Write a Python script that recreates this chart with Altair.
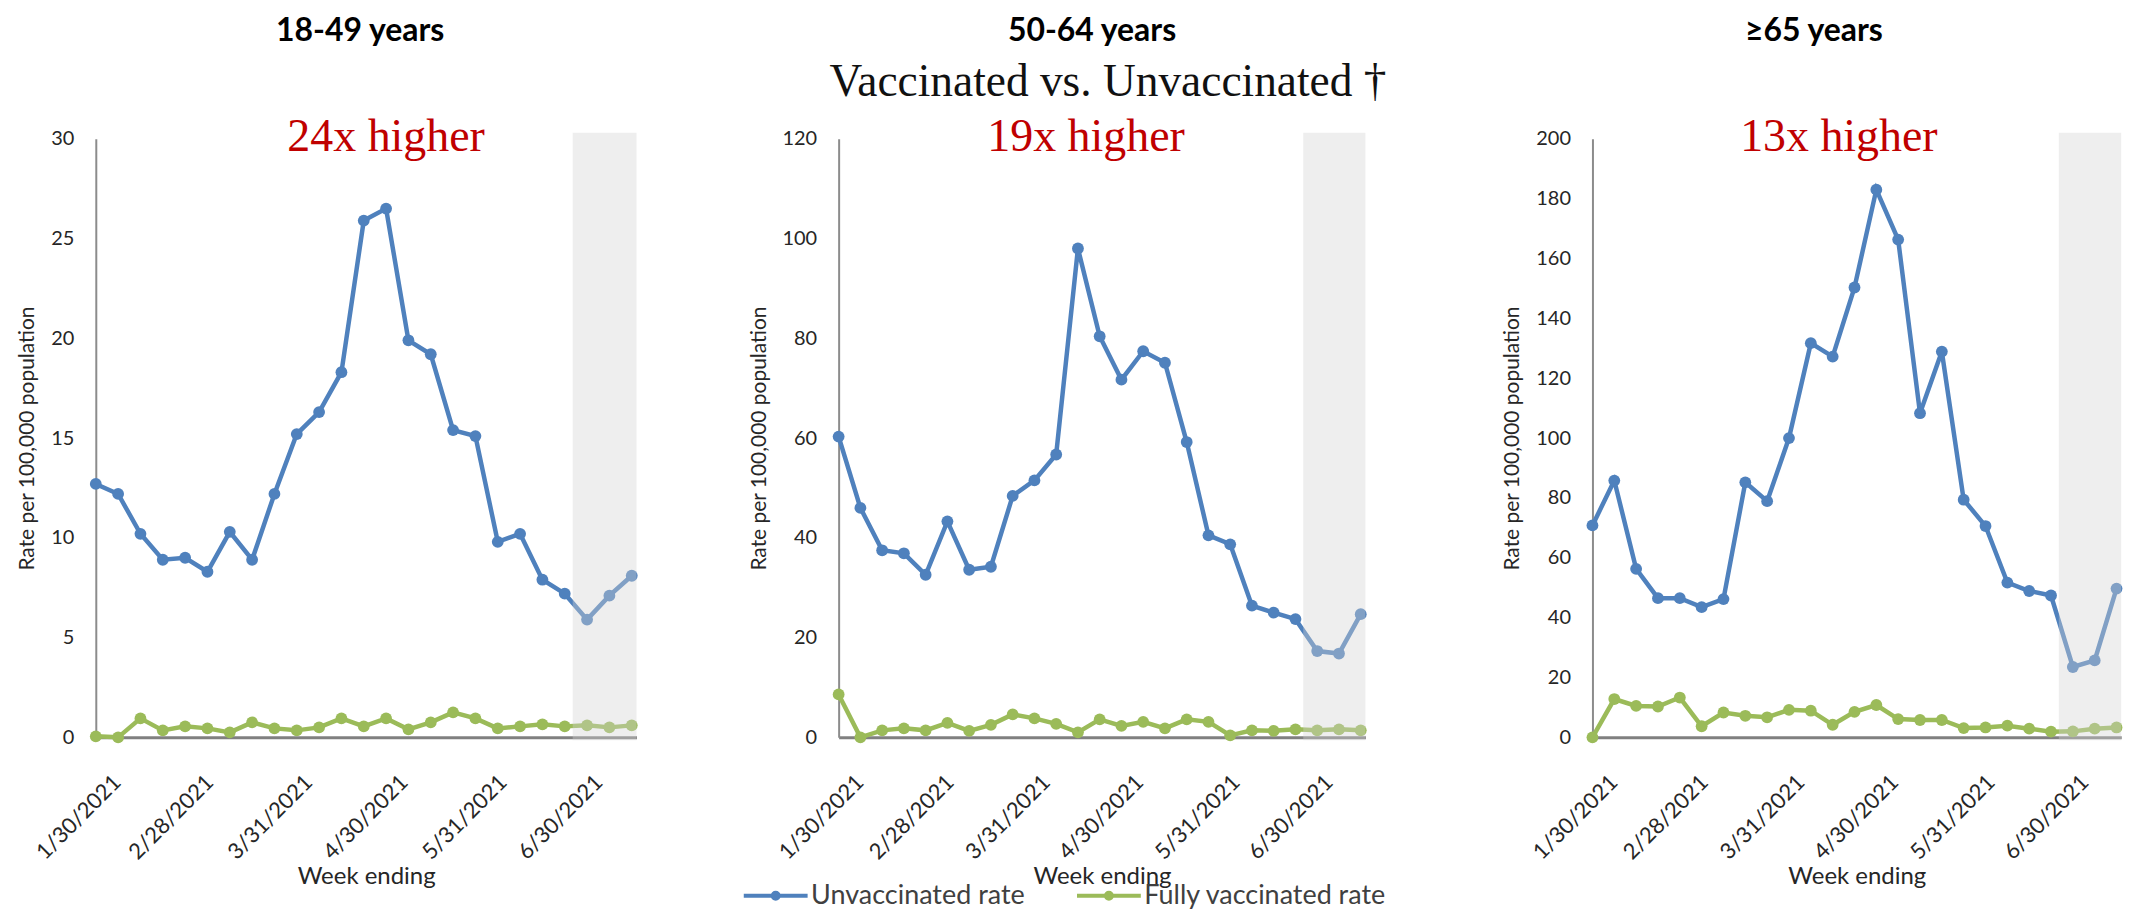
import altair as alt
import pandas as pd

# ---------------- data ----------------
week_ending = [
    "2021-01-30", "2021-02-06", "2021-02-13", "2021-02-20", "2021-02-27",
    "2021-03-06", "2021-03-13", "2021-03-20", "2021-03-27", "2021-04-03",
    "2021-04-10", "2021-04-17", "2021-04-24", "2021-05-01", "2021-05-08",
    "2021-05-15", "2021-05-22", "2021-05-29", "2021-06-05", "2021-06-12",
    "2021-06-19", "2021-06-26", "2021-07-03", "2021-07-10", "2021-07-17",
]

age_groups = ["18-49 years", "50-64 years", "\u226565 years"]
series_names = ["Unvaccinated rate", "Fully vaccinated rate"]

unvacc_18_49 = [12.7, 12.2, 10.2, 8.9, 9.0, 8.3, 10.3, 8.9, 12.2, 15.2, 16.3, 18.3, 25.9,
                26.5, 19.9, 19.2, 15.4, 15.1, 9.8, 10.2, 7.9, 7.2, 5.9, 7.1, 8.1]
vacc_18_49 = [0.05, 0.0, 0.95, 0.35, 0.55, 0.45, 0.25, 0.75, 0.45, 0.35, 0.5, 0.95, 0.55,
              0.95, 0.4, 0.75, 1.25, 0.95, 0.45, 0.55, 0.65, 0.55, 0.6, 0.5, 0.6]

unvacc_50_64 = [60.3, 46.0, 37.5, 36.9, 32.6, 43.3, 33.6, 34.2, 48.4, 51.5, 56.7, 98.0, 80.4,
                71.7, 77.4, 75.1, 59.2, 40.5, 38.7, 26.4, 25.0, 23.7, 17.3, 16.8, 24.7]
vacc_50_64 = [8.6, 0.0, 1.4, 1.8, 1.4, 2.9, 1.3, 2.5, 4.6, 3.8, 2.7, 1.0, 3.6,
              2.3, 3.1, 1.8, 3.6, 3.1, 0.4, 1.4, 1.3, 1.6, 1.4, 1.6, 1.4]

unvacc_65 = [70.8, 85.8, 56.3, 46.5, 46.5, 43.5, 46.2, 85.2, 78.9, 100.0, 131.7, 127.2, 150.3,
             183.0, 166.3, 108.3, 128.9, 79.4, 70.6, 51.7, 48.9, 47.4, 23.5, 25.7, 49.7]
vacc_65 = [0.0, 12.8, 10.5, 10.3, 13.3, 3.7, 8.3, 7.2, 6.7, 9.2, 8.9, 4.2, 8.5,
           10.8, 6.1, 5.8, 5.8, 3.1, 3.3, 3.9, 2.9, 1.9, 2.0, 2.9, 3.3]

ratio_labels = ["24x higher", "19x higher", "13x higher"]
subtitle_text = "Vaccinated vs. Unvaccinated \u2020"

y_max = [30, 120, 200]
y_step = [5, 20, 20]

tick_dates = [(2021, 1, 30), (2021, 2, 28), (2021, 3, 31), (2021, 4, 30), (2021, 5, 31), (2021, 6, 30)]
shade_start = ["2021-06-28T12:00:00"]
shade_end = ["2021-07-18T12:00:00"]

# ---------------- styling / layout ----------------
series_colors = ["#4F81BD", "#9BBB59"]
plot_widths = [542, 528, 530]      # width of the data range
cell_widths = [542, 553, 530]      # width of each cell (panel 2 has room for its subtitle)
panel_height = 600
panel_spacing = 202.6
title_x = [265, 254, 222]
title_y = -98
ratio_x = [291, 248, 247]
FONT = "Lato"

rows = []
all_series = [
    (unvacc_18_49, vacc_18_49),
    (unvacc_50_64, vacc_50_64),
    (unvacc_65, vacc_65),
]
for g, (u, v) in zip(age_groups, all_series):
    for d, a, b in zip(week_ending, u, v):
        rows.append({"group": g, "date": d + "T00:00:00", "series": series_names[0], "value": a})
        rows.append({"group": g, "date": d + "T00:00:00", "series": series_names[1], "value": b})
df = pd.DataFrame(rows)

legend_path = ("M-6.4,0L6.4,0"
               "M-0.6,0A0.6,0.6,0,1,0,0.6,0A0.6,0.6,0,1,0,-0.6,0"
               "M-0.2,0A0.2,0.2,0,1,0,0.2,0A0.2,0.2,0,1,0,-0.2,0")

legend = alt.Legend(
    orient="none", direction="horizontal", legendX=668, legendY=745,
    title=None, labelFont=FONT, labelFontSize=27, labelColor="#404040",
    symbolType=legend_path, symbolSize=100, symbolStrokeWidth=4,
    labelOffset=22, columnPadding=43, labelLimit=400,
)

x_domain = [alt.DateTime(year=2021, month=1, date=30),
            alt.DateTime(year=2021, month=7, date=18, hours=12)]
x_ticks = [alt.DateTime(year=y, month=m, date=d) for (y, m, d) in tick_dates]


def text_layer(label, **style):
    return alt.Chart(pd.DataFrame({"label": [label]})).mark_text(**style)


def panel(i):
    data = df[df["group"] == age_groups[i]]
    base = alt.Chart(data)
    x_scale = alt.Scale(domain=x_domain, range=[0, plot_widths[i]])
    x_axis = alt.Axis(
        values=x_ticks, format="%-m/%-d/%Y", labelAngle=-45,
        labelAlign="right", labelBaseline="top", labelPadding=34, labelOffset=14,
        labelFont=FONT, labelFontSize=22, labelColor="#262626",
        ticks=False, grid=False, domainColor="#808080", domainWidth=3,
        title="Week ending", titleFont=FONT, titleFontSize=24,
        titleFontWeight="normal", titleColor="#262626", titlePadding=1,
        titleX=plot_widths[i] / 2, labelOverlap=False,
    )
    x = alt.X("date:T", scale=x_scale, axis=x_axis)
    y = alt.Y(
        "value:Q",
        scale=alt.Scale(domain=[0, y_max[i]], nice=False),
        axis=alt.Axis(
            values=list(range(0, y_max[i] + 1, y_step[i])),
            labelFont=FONT, labelFontSize=20, labelColor="#262626", labelPadding=22,
            ticks=False, grid=False, domainColor="#8c8c8c", domainWidth=2,
            title="Rate per 100,000 population", titleFont=FONT, titleFontSize=21,
            titleFontWeight="normal", titleColor="#262626", titlePadding=13,
        ),
    )
    color_scale = alt.Scale(domain=series_names, range=series_colors)
    lines = base.mark_line(strokeWidth=4.5).encode(
        x=x, y=y, color=alt.Color("series:N", scale=color_scale, legend=legend)
    )
    points = base.mark_circle(size=140, opacity=1).encode(
        x=x, y=y, color=alt.Color("series:N", scale=color_scale, legend=None)
    )
    shade = alt.Chart(pd.DataFrame({"start": shade_start, "end": shade_end})).mark_rect(
        fill="#d2d2d2", opacity=0.38
    ).encode(
        x=alt.X("start:T", scale=x_scale, axis=x_axis), x2="end:T",
        y=alt.value(-6), y2=alt.value(panel_height + 3),
    )
    ratio = text_layer(
        ratio_labels[i], font="Liberation Serif", fontSize=46, color="#C00000",
        baseline="alphabetic", align="center",
    ).encode(text="label:N", x=alt.value(ratio_x[i]), y=alt.value(12))
    head = text_layer(
        age_groups[i], font=FONT, fontSize=32, fontWeight="bold", color="#000000",
        baseline="alphabetic", align="center",
    ).encode(text="label:N", x=alt.value(title_x[i]), y=alt.value(title_y))
    layers = [lines, points, shade, ratio, head]
    if i == 1:
        sub = text_layer(
            subtitle_text, font="Liberation Serif", fontSize=45.5, color="#111111",
            baseline="alphabetic", align="center",
        ).encode(text="label:N", x=alt.value(270), y=alt.value(-43))
        layers.append(sub)
    return alt.layer(*layers).properties(width=cell_widths[i], height=panel_height)


chart = alt.hconcat(
    panel(0), panel(1), panel(2), spacing=panel_spacing, bounds="flush"
).properties(
    padding={"left": 8, "top": 6, "right": 0, "bottom": 0},
    background="white",
).configure_view(stroke=None)

chart.save("out.html", embed_options={"renderer": "svg", "actions": False})
